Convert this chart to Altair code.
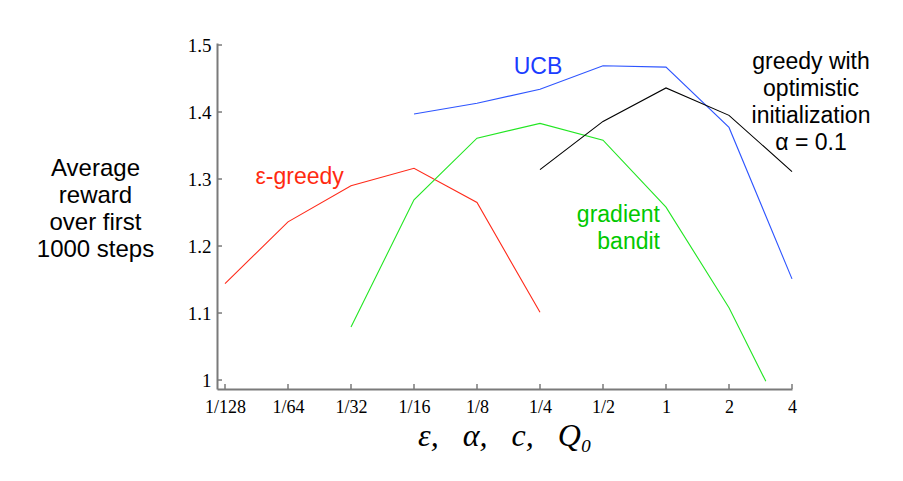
import altair as alt
import pandas as pd

# ---- data ----
tick_params = [1/128, 1/64, 1/32, 1/16, 1/8, 1/4, 1/2, 1, 2, 4]
y_ticks = [1.0, 1.1, 1.2, 1.3, 1.4, 1.5]

eps_x = [1/128, 1/64, 1/32, 1/16, 1/8, 1/4]
eps_y = [1.144, 1.236, 1.290, 1.316, 1.265, 1.101]

grad_x = [1/32, 1/16, 1/8, 1/4, 1/2, 1, 2, 3]
grad_y = [1.079, 1.269, 1.361, 1.383, 1.358, 1.258, 1.108, 0.998]

ucb_x = [1/16, 1/8, 1/4, 1/2, 1, 2, 4]
ucb_y = [1.397, 1.413, 1.434, 1.469, 1.467, 1.377, 1.151]

opt_x = [1/4, 1/2, 1, 2, 4]
opt_y = [1.314, 1.386, 1.436, 1.395, 1.311]

series_names = ["eps", "grad", "ucb", "opt"]
line_colors = ["#ff2a1a", "#22e622", "#2e55ff", "#000000"]

ann_text = ["\u03b5-greedy", "gradient\nbandit", "UCB", "greedy with\noptimistic\ninitialization\n\u03b1 = 0.1"]
ann_x = [0.01777, 0.936, 0.2445, 4.93]
ann_y = [1.3034, 1.2463, 1.467, 1.475]
ann_color = ["#ff2a10", "#00c800", "#1a3dff", "#000000"]
ann_align = ["center", "right", "center", "center"]

# ---- build tables ----
rows = []
for name, xs, ys in zip(series_names, [eps_x, grad_x, ucb_x, opt_x], [eps_y, grad_y, ucb_y, opt_y]):
    for i, (a, b) in enumerate(zip(xs, ys)):
        rows.append({"series": name, "p": a, "r": b, "order": i})
df = pd.DataFrame(rows)

W, H = 575, 346
xscale = alt.Scale(type="log", base=2, domain=[2 ** -7.127, 4], nice=False)
yscale = alt.Scale(domain=[0.9866, 1.503], nice=False, zero=False)
GRAY = "#7a7a7a"
NB = "\u00a0"
xtitle = "\u03b5," + NB * 3 + "\u03b1," + NB * 3 + "c," + NB * 3 + "Q\u2080"

lines = alt.Chart(df).mark_line(strokeWidth=1.1).encode(
    x=alt.X("p:Q", scale=xscale,
            axis=alt.Axis(values=tick_params, ticks=False, grid=False,
                          labelExpr="datum.value < 1 ? '1/' + format(1/datum.value, 'd') : format(datum.value, 'd')",
                          labelFont="Liberation Serif", labelFontSize=18, labelColor="black",
                          labelPadding=9, labelFlush=False,
                          domainColor=GRAY, domainWidth=2,
                          title=xtitle, titleFont="Liberation Serif",
                          titleFontStyle="italic", titleFontWeight="normal", titleFontSize=32,
                          titleColor="black", titleY=56, titleBaseline="alphabetic")),
    y=alt.Y("r:Q", scale=yscale,
            axis=alt.Axis(values=y_ticks, ticks=False, grid=False,
                          labelExpr="datum.value == 1 ? '1' : format(datum.value, '.1f')",
                          labelFont="Liberation Serif", labelFontSize=19, labelColor="black",
                          labelPadding=6,
                          domainColor=GRAY, domainWidth=2,
                          title=["Average", "reward", "over first", "1000 steps"],
                          titleFont="Liberation Sans", titleFontSize=24, titleFontWeight="normal",
                          titleColor="black", titleAngle=0, titleAlign="center",
                          titleBaseline="alphabetic", titleX=-122, titleY=132, titleLineHeight=27)),
    color=alt.Color("series:N", scale=alt.Scale(domain=series_names, range=line_colors), legend=None),
    order="order:Q",
)

xt = alt.Chart(pd.DataFrame({"p": tick_params})).mark_rule(color=GRAY, strokeWidth=1.5).encode(
    x=alt.X("p:Q", scale=xscale), y=alt.value(H), y2=alt.value(H - 5)
)
yt = alt.Chart(pd.DataFrame({"v": y_ticks})).mark_rule(color=GRAY, strokeWidth=1.5).encode(
    y=alt.Y("v:Q", scale=yscale), x=alt.value(0), x2=alt.value(5)
)

ann_df = pd.DataFrame({"t": ann_text, "p": ann_x, "r": ann_y})
texts = []
for i in range(len(ann_text)):
    sub = ann_df.iloc[[i]]
    texts.append(
        alt.Chart(sub).mark_text(font="Liberation Sans", fontSize=23, lineBreak="\n",
                                 lineHeight=27, baseline="middle", align=ann_align[i],
                                 color=ann_color[i]).encode(
            x=alt.X("p:Q", scale=xscale), y=alt.Y("r:Q", scale=yscale), text="t:N")
    )

chart = alt.layer(lines, xt, yt, *texts).properties(
    width=W, height=H,
    autosize=alt.AutoSizeParams(type="none"),
    padding={"left": 217, "top": 43, "right": 111, "bottom": 92},
    background="white",
).configure_view(stroke="transparent", strokeWidth=0)

chart.save("out.html", embed_options={"renderer": "svg", "actions": False})
